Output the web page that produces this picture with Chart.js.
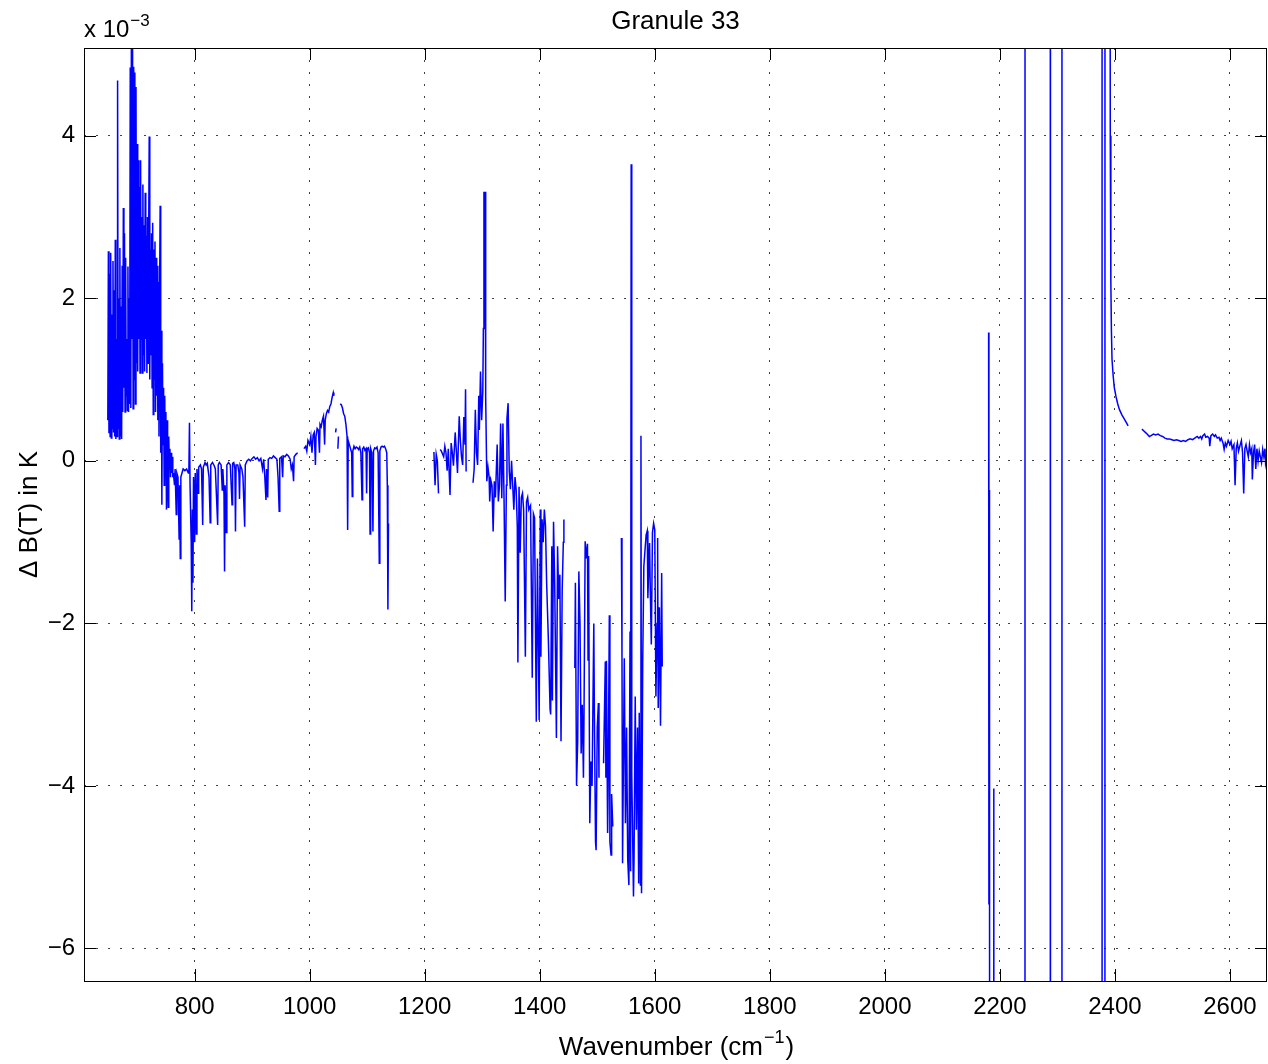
<!DOCTYPE html>
<html>
<head>
<meta charset="utf-8">
<title>Granule 33</title>
<script src="https://cdn.jsdelivr.net/npm/chart.js@4.4.1/dist/chart.umd.min.js"></script>
<style>
  body { margin: 0; background: #fff; }
  canvas { display: block; }
</style>
</head>
<body>
<canvas id="myChart" width="1268" height="1064"></canvas>
<script>
// Delta B(T) in units of 1e-3 K
// longwave CO2 band, one value per cm-1 starting at 649
const lwStart = 649;
const lwValues = [
  0.5, 2.58, 0.34, 2.3, 0.3, 2.56, 0.28, 1.8, 0.4, 2.46,
  0.35, 2.1, 0.3, 2.72, 0.27, 1.5, 0.3, 4.68, 0.4, 2.0,
  0.27, 2.62, 0.3, 1.9, 0.27, 2.4, 0.6, 3.11, 0.9, 2.8,
  0.6, 2.5, 0.8, 1.5, 0.62, 2.39, 0.6, 2.0, 0.7, 4.84,
  0.65, 5.3, 1.5, 5.3, 0.64, 4.85, 1.0, 4.78, 0.7, 4.6,
  1.2, 3.9, 1.1, 3.7, 1.5, 3.37, 1.08, 3.7, 1.5, 3.0,
  1.08, 3.4, 1.3, 2.9, 1.1, 3.3, 1.5, 2.77, 1.08, 3.0,
  1.2, 2.7, 3.99, 1.0, 2.6, 1.3, 2.8, 0.9, 2.93, 0.57,
  2.6, 1.0, 2.7, 0.6, 2.5, 0.8, 2.4, 0.5, 2.2, 0.3,
  2.0, 3.14, 0.1, 1.6, -0.54, 1.2, 0.2, 0.9, -0.3, 0.8,
  0.0, 0.6, -0.6, 0.5, -0.2, -0.57, 0.3, -0.1, 0.15, -0.2,
  0.1, -0.15, 0.05, -0.2
];

// window region
const winWn = [763, 765, 766, 768, 769, 771, 773, 774, 775, 776, 778, 780, 783, 786, 789, 790, 791, 792, 794, 795,
  796, 797, 798, 800, 801, 803, 804, 806, 807, 810, 812, 814, 815, 818, 820, 822, 825, 827, 828, 831,
  834, 836, 840, 841, 843, 846, 848, 849, 851, 852, 853, 855, 856, 859, 862, 865, 866, 868, 870, 871,
  872, 875, 877, 878, 879, 882, 884, 887, 888, 891, 894, 897, 900, 903, 906, 909, 912, 915, 918, 920,
  922, 924, 925, 927, 928, 931, 934, 937, 940, 943, 945, 947, 948, 951, 953, 954, 957, 960, 963, 966,
  968, 970, 972, 973, 976, 979, 982, 990, 993, 995, 997, 1000, 1002, 1004, 1006, 1008, 1010, 1011, 1013, 1015,
  1017, 1018, 1020, 1022, 1024, 1026, 1027, 1029, 1031, 1033, 1035, 1037, 1039, 1041, 1042, 1043, 1045, 1046, 1047, 1049,
  1050, 1051, 1053, 1055, 1057, 1059, 1061, 1063, 1065, 1066, 1067, 1069, 1071, 1073, 1074, 1075, 1077, 1079, 1081, 1083,
  1085, 1087, 1089, 1091, 1092, 1094, 1096, 1098, 1099, 1100, 1102, 1104, 1105, 1106, 1108, 1110, 1111, 1113, 1115, 1117,
  1119, 1121, 1122, 1124, 1126, 1128, 1130, 1132, 1134, 1135, 1136, 1137];
const winDbt = [-0.15, -0.3, -0.1, -0.66, -0.15, -0.2, -0.96, -0.3, -1.2, -0.2, -0.15, -0.1, -0.12, -0.1, -0.15, -0.1, 0.47, -0.3, -1.0, -1.85,
  -0.6, -1.5, -0.2, -1.0, -0.15, -0.9, -0.1, -0.4, -0.08, -0.05, -0.1, -0.79, -0.08, -0.02, -0.05, -0.03, -0.2, -0.76, -0.05, -0.02,
  -0.06, -0.1, -0.79, -0.05, -0.02, -0.05, -0.36, -0.1, -0.4, -1.36, -0.3, -0.88, -0.05, -0.02, -0.05, -0.54, -0.03, -0.02, -0.1, -0.87,
  -0.05, -0.05, -0.15, -0.47, -0.05, -0.1, -0.2, -0.81, -0.05, 0.0, 0.02, 0.0, 0.03, 0.05, 0.02, 0.04, 0.0, 0.03, -0.1, 0.02,
  -0.2, -0.48, -0.1, -0.45, 0.02, 0.04, 0.03, 0.06, 0.04, 0.02, -0.2, -0.62, 0.03, 0.05, -0.2, 0.06, 0.05, 0.08, 0.06, 0.02,
  -0.1, -0.05, -0.25, 0.05, 0.08, 0.1, null, 0.15, 0.18, 0.12, 0.25, 0.2, 0.3, 0.1, 0.32, 0.35, -0.05, 0.3, 0.4, 0.38,
  0.1, 0.45, 0.42, 0.5, 0.55, 0.2, 0.5, 0.58, 0.62, 0.6, 0.67, 0.7, 0.78, 0.84, 0.8, null, 0.35, 0.4, null, 0.15,
  0.3, null, 0.7, 0.69, 0.65, 0.58, 0.55, 0.45, 0.3, -0.85, 0.25, 0.2, 0.15, 0.1, -0.44, 0.12, 0.18, 0.15, 0.17, 0.16,
  0.14, 0.17, 0.1, -0.48, 0.15, 0.17, 0.13, 0.15, -0.4, 0.15, 0.16, 0.1, -0.9, 0.15, 0.1, -0.87, 0.12, 0.16, 0.15, 0.17,
  0.1, -1.26, 0.12, 0.17, 0.18, 0.17, 0.18, 0.15, 0.1, -0.3, -1.83, -0.77];

// ozone / water vapour region
const h2oWn = [1216, 1218, 1220, 1222, 1224, 1225, 1227, 1229, 1233, 1235, 1237, 1239, 1241, 1244, 1246, 1248, 1250, 1253, 1255, 1257,
  1260, 1262, 1264, 1266, 1268, 1270, 1271, 1272, 1278, 1284, 1286, 1288, 1290, 1292, 1294, 1295, 1297, 1299, 1301, 1302,
  1303, 1304, 1305, 1306, 1308, 1310, 1312, 1313, 1315, 1317, 1319, 1321, 1323, 1326, 1328, 1330, 1332, 1334, 1336, 1338,
  1340, 1342, 1343, 1345, 1347, 1349, 1351, 1353, 1355, 1357, 1359, 1361, 1362, 1364, 1366, 1368, 1370, 1372, 1375, 1377,
  1379, 1381, 1384, 1387, 1389, 1391, 1394, 1396, 1399, 1401, 1402, 1404, 1406, 1408, 1410, 1412, 1415, 1418, 1419, 1421,
  1422, 1424, 1426, 1429, 1431, 1433, 1435, 1437, 1439, 1441, 1442, 1450, 1461, 1462, 1464, 1466, 1468, 1470, 1472, 1474,
  1476, 1477, 1479, 1481, 1483, 1484, 1485, 1487, 1489, 1491, 1494, 1495, 1497, 1498, 1500, 1502, 1503, 1507, 1511, 1514,
  1515, 1516, 1518, 1519, 1521, 1522, 1524, 1525, 1527, 1535, 1542, 1543, 1544, 1547, 1549, 1551, 1553, 1555, 1557, 1558,
  1559, 1560, 1563, 1564, 1566, 1568, 1570, 1572, 1573, 1575, 1576, 1577, 1579, 1581, 1583, 1585, 1587, 1588, 1591, 1592,
  1594, 1596, 1598, 1600, 1602, 1604, 1605, 1606, 1608, 1610, 1612, 1613];
const h2oDbt = [0.11, -0.3, 0.08, 0.0, -0.4, null, 0.14, 0.12, 0.05, 0.18, 0.1, -0.12, 0.15, -0.42, 0.22, 0.1, -0.06, 0.35, 0.12, -0.15,
  0.55, 0.25, 0.05, -0.05, 0.54, 0.2, 0.88, -0.13, null, -0.27, -0.1, 0.63, 0.1, -0.05, 0.8, 0.38, 1.1, 0.5, 0.85, 1.63,
  3.31, 1.7, 3.31, 0.78, -0.25, -0.08, -0.2, -0.5, -0.24, -0.3, -0.87, -0.25, -0.45, 0.2, -0.5, -0.3, 0.46, -0.46, 0.46, -0.5,
  -1.73, -0.3, 0.52, 0.71, -0.12, -0.35, 0.0, -0.3, -0.6, -0.2, -0.35, -0.81, -2.48, -0.32, -1.13, -0.45, -0.4, -0.6, -2.41, -0.5,
  -0.45, -0.6, -0.55, -2.67, -0.65, -0.7, -3.21, -1.2, -3.19, -0.6, -2.41, -0.72, -1.0, -0.6, -0.8, -1.5, -2.2, -3.06, -3.12, -1.05,
  -2.95, -0.75, -1.5, -3.41, -1.05, -1.7, -1.4, -3.45, -1.6, -1.0, -0.72, null, -2.55, -1.5, -3.99, -3.45, -1.36, -2.0, -3.6, -3.0,
  -3.9, -3.1, -0.99, -1.2, -1.02, -2.45, -1.17, -4.46, -3.7, -4.0, -2.0, -3.1, -4.69, -4.79, -3.28, -2.98, -3.9, null, -3.72, -2.47,
  -3.9, -2.46, -4.58, -4.0, -1.9, -4.69, -4.85, -4.1, -4.5, null, -0.95, -2.4, -4.95, -2.43, -4.46, -3.28, -4.91, -5.22, -2.1, -5.05,
  3.65, -3.85, -5.36, -4.88, -2.9, -4.54, -3.28, -5.2, -3.1, -5.22, 0.31, -5.32, -2.5, -1.3, -1.1, -0.91, -0.86, -1.69, -1.01, -1.5,
  -2.26, -0.88, -0.77, -0.85, -2.9, -2.0, -0.95, -3.04, -1.8, -3.26, -1.38, -2.53];

// shortwave region (values far outside the axis run off the plot)
const swWn = [2180.5, 2181, 2182, 2183.5, 2188, 2189.5, 2191, 2243.5, 2244, 2287.5, 2288, 2307.5, 2308, 2377.5, 2378, 2382.5, 2383, 2390.5, 2391, 2392,
  2393, 2394, 2395, 2397, 2399, 2402, 2405, 2408, 2412, 2416, 2420, 2423, 2435, 2447, 2450, 2453, 2456, 2460, 2463, 2467,
  2471, 2475, 2479, 2483, 2487, 2491, 2495, 2499, 2503, 2507, 2511, 2515, 2519, 2523, 2527, 2531, 2535, 2539, 2543, 2546,
  2549, 2551, 2553, 2556, 2558, 2561, 2564, 2565, 2567, 2570, 2573, 2575, 2578, 2581, 2583, 2585, 2588, 2590, 2592, 2594,
  2597, 2600, 2602, 2604, 2607, 2609, 2611, 2613, 2615, 2618, 2620, 2622, 2624, 2626, 2628, 2630, 2632, 2634, 2636, 2638,
  2639, 2641, 2643, 2645, 2647, 2649, 2651, 2653, 2655, 2657, 2659, 2661, 2662, 2664];
const swDbt = [1.58, -5.46, -0.36, -60, -60, -4.03, -60, -60, 60, 60, -60, -60, 60, 60, -60, -60, 60, 60, 12, 4,
  2.2, 1.6, 1.25, 1.05, 0.9, 0.79, 0.7, 0.63, 0.57, 0.52, 0.47, 0.43, null, 0.39, 0.37, 0.35, 0.33, 0.3, 0.31, 0.33,
  0.32, 0.33, 0.31, 0.3, 0.28, 0.27, 0.27, 0.26, 0.25, 0.26, 0.25, 0.24, 0.25, 0.24, 0.26, 0.27, 0.26, 0.28, 0.3, 0.28,
  0.3, 0.27, 0.31, 0.33, 0.29, 0.3, 0.28, 0.18, 0.31, 0.33, 0.3, 0.32, 0.28, 0.29, 0.25, 0.28, 0.22, 0.14, 0.22, 0.18,
  0.25, 0.2, 0.24, 0.15, 0.2, -0.3, 0.15, 0.22, 0.12, 0.2, 0.25, 0.1, -0.4, 0.15, 0.2, 0.12, 0.05, 0.2, 0.1, 0.15,
  -0.23, 0.1, 0.2, -0.1, 0.15, 0.0, 0.12, 0.05, -0.02, 0.14, 0.05, 0.15, -0.03, 0.05];

const xTicks = [800, 1000, 1200, 1400, 1600, 1800, 2000, 2200, 2400, 2600];
const yTicks = [-6, -4, -2, 0, 2, 4];

const FONT = "'Liberation Sans', Arial, Helvetica, sans-serif";

function buildPoints() {
    const pts = [];
    lwValues.forEach((v, i) => pts.push({ x: lwStart + i, y: v }));
    pts.push({ x: 762.5, y: null });
    winWn.forEach((w, i) => pts.push({ x: w, y: winDbt[i] }));
    pts.push({ x: 1180, y: null });
    h2oWn.forEach((w, i) => pts.push({ x: w, y: h2oDbt[i] }));
    pts.push({ x: 1900, y: null });
    swWn.forEach((w, i) => pts.push({ x: w, y: swDbt[i] }));
    return pts;
}

function drawSup(ctx, x, y, base, sup, size, supSize, align) {
    ctx.font = size + 'px ' + FONT;
    const wb = ctx.measureText(base.main).width;
    const wa = base.after ? ctx.measureText(base.after).width : 0;
    ctx.font = supSize + 'px ' + FONT;
    const ws = ctx.measureText(sup).width;
    let left = x;
    if (align === 'center') left = x - (wb + ws + wa) / 2;
    ctx.textAlign = 'left';
    ctx.textBaseline = 'alphabetic';
    ctx.font = size + 'px ' + FONT;
    ctx.fillText(base.main, left, y);
    ctx.font = supSize + 'px ' + FONT;
    ctx.fillText(sup, left + wb + 1, y - size * 0.45);
    if (base.after) {
        ctx.font = size + 'px ' + FONT;
        ctx.fillText(base.after, left + wb + ws + 2, y);
    }
}

// frame, inward ticks and the texts MATLAB puts round the axes
const matlabFrame = {
    id: 'matlabFrame',
    afterDraw(chart) {
        const { ctx, chartArea: a, scales } = chart;
        ctx.save();
        ctx.strokeStyle = '#000';
        ctx.lineWidth = 1;
        ctx.strokeRect(a.left + 0.5, a.top + 0.5, a.right - a.left - 1, a.bottom - a.top);
        ctx.beginPath();
        xTicks.forEach(t => {
            const px = Math.round(scales.x.getPixelForValue(t)) + 0.5;
            ctx.moveTo(px, a.bottom); ctx.lineTo(px, a.bottom - 12);
            ctx.moveTo(px, a.top); ctx.lineTo(px, a.top + 12);
        });
        yTicks.forEach(t => {
            const py = Math.round(scales.y.getPixelForValue(t)) + 0.5;
            ctx.moveTo(a.left, py); ctx.lineTo(a.left + 12, py);
            ctx.moveTo(a.right, py); ctx.lineTo(a.right - 12, py);
        });
        ctx.stroke();

        ctx.fillStyle = '#000';
        const cx = (a.left + a.right) / 2;
        ctx.font = '26px ' + FONT;
        ctx.textAlign = 'center';
        ctx.textBaseline = 'alphabetic';
        ctx.fillText('Granule 33', cx, 29);

        drawSup(ctx, a.left, 37, { main: 'x 10' }, '\u22123', 24, 17, 'left');
        drawSup(ctx, cx, 1055, { main: 'Wavenumber (cm', after: ')' }, '\u22121', 26, 18, 'center');

        ctx.translate(37, (a.top + a.bottom) / 2);
        ctx.rotate(-Math.PI / 2);
        ctx.font = '26px ' + FONT;
        ctx.textAlign = 'center';
        ctx.fillText('\u0394 B(T) in K', 0, 0);
        ctx.restore();
    }
};

const config = {
    type: 'line',
    data: {
        datasets: [{
            data: buildPoints(),
            borderColor: '#0000ff',
            borderWidth: 1.5,
            pointRadius: 0,
            tension: 0,
            spanGaps: false,
            clip: 0
        }]
    },
    options: {
        responsive: false,
        animation: false,
        parsing: false,
        layout: { padding: { top: 48, right: 1, left: 0, bottom: 0 } },
        plugins: { legend: { display: false }, tooltip: { enabled: false }, title: { display: false } },
        scales: {
            x: {
                type: 'linear',
                min: 607.6,
                max: 2664.5,
                afterBuildTicks: s => { s.ticks = xTicks.map(v => ({ value: v })); },
                afterFit: s => { s.height = 83; s.paddingLeft = 0; s.paddingRight = 0; },
                grid: { color: 'rgba(0,0,0,0.75)', drawTicks: false },
                border: { display: false, dash: [2, 10] },
                ticks: {
                    color: '#000', font: { family: FONT, size: 24 }, padding: 12, maxRotation: 0, autoSkip: false,
                    callback: v => String(v)
                }
            },
            y: {
                type: 'linear',
                min: -6.4,
                max: 5.08,
                afterBuildTicks: s => { s.ticks = yTicks.map(v => ({ value: v })); },
                afterFit: s => { s.width = 84; },
                grid: { color: 'rgba(0,0,0,0.75)', drawTicks: false },
                border: { display: false, dash: [2, 10] },
                ticks: {
                    color: '#000', font: { family: FONT, size: 24 }, padding: 9,
                    callback: v => (v < 0 ? '\u2212' + Math.abs(v) : String(v))
                }
            }
        }
    },
    plugins: [matlabFrame]
};

const ctx = document.getElementById('myChart').getContext('2d');
window.myChart = new Chart(ctx, config);
</script>
</body>
</html>
